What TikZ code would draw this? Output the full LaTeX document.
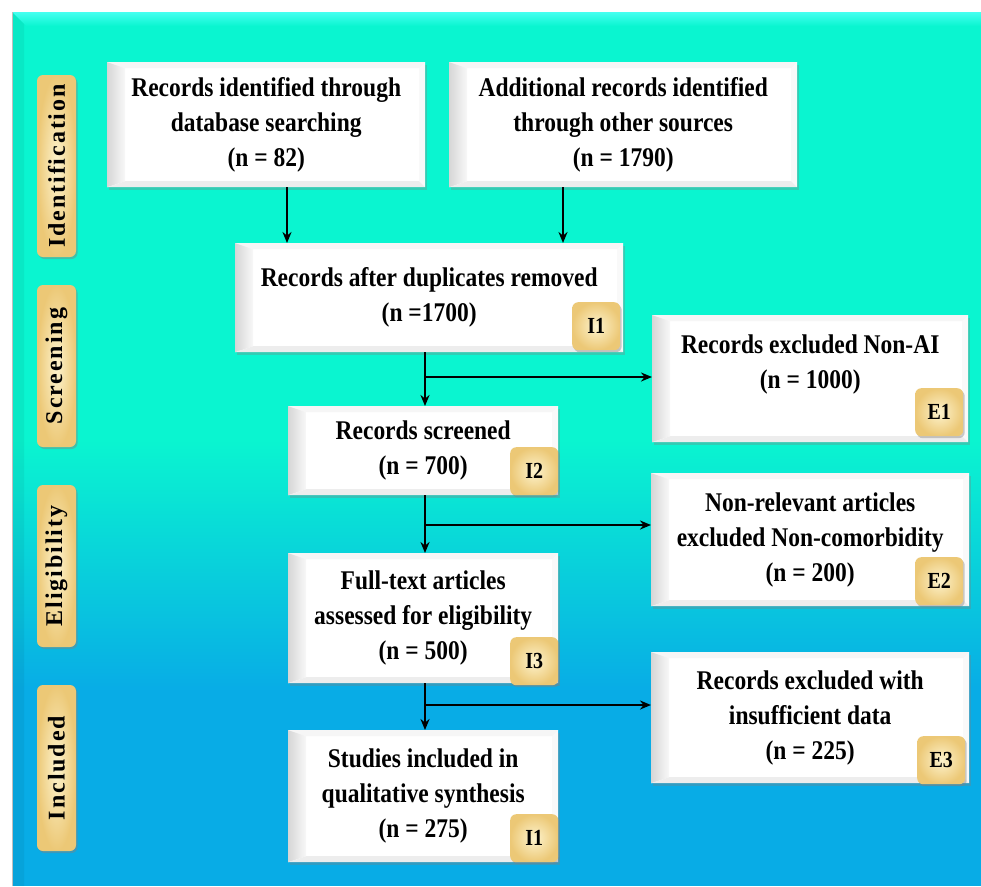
\documentclass[tikz,border=0pt]{standalone}
\usepackage{fontspec}
\setmainfont{Liberation Serif}
\newfontfamily\boxfont{Liberation Serif}[FakeStretch=0.87]
\newfontfamily\labfont{Liberation Serif}[LetterSpace=8]
\usetikzlibrary{arrows.meta,shadows,calc}
\definecolor{bgteal}{RGB}{10,245,208}
\definecolor{bgblue}{RGB}{8,172,230}
\definecolor{bgtop}{RGB}{70,255,240}
\definecolor{gold}{RGB}{236,200,118}
\definecolor{cream}{RGB}{253,243,205}
\begin{document}
\begin{tikzpicture}[x=1pt,y=1pt,
 flowbox/.style={fill=white, inner sep=0pt, align=center, anchor=north west,
   font=\boxfont\bfseries\fontsize{27}{35}\selectfont,
   drop shadow={shadow xshift=2pt,shadow yshift=-2.5pt,opacity=.35},
   path picture={
     \path (path picture bounding box.north west) coordinate (pnw)
           (path picture bounding box.south east) coordinate (pse);
     \fill[gray!7] (pnw) -- (pnw -| pse) -- ($(pnw -| pse)+(-6,-6)$) -- ($(pnw)+(18,-6)$) -- cycle;
     \shade[left color=gray!32, right color=gray!5] (pnw) -- ($(pnw)+(18,-6)$) -- ($(pnw |- pse)+(18,6)$) -- (pnw |- pse) -- cycle;
     \fill[gray!14] (pnw |- pse) -- ($(pnw |- pse)+(18,6)$) -- ($(pse)+(-6,6)$) -- (pse) -- cycle;
     \fill[gray!5] (pse) -- ($(pse)+(-6,6)$) -- ($(pnw -| pse)+(-6,-6)$) -- (pnw -| pse) -- cycle;
   }},
 badge/.style={rounded corners=6pt, minimum width=48pt, minimum height=48pt, inner sep=0pt,
   anchor=south east, inner color=cream, outer color=gold,
   drop shadow={shadow xshift=1.5pt,shadow yshift=-2pt,opacity=.4},
   font=\boxfont\bfseries\fontsize{23}{23}\selectfont},
 phase/.style={rounded corners=6pt, minimum height=39pt, inner sep=0pt, rotate=90,
   inner color=cream, outer color=gold,
   drop shadow={shadow xshift=1.5pt,shadow yshift=-2pt,opacity=.45},
   font=\labfont\bfseries\fontsize{24}{24}\selectfont},
 arr/.style={line width=2.3pt, -{Stealth[length=11pt,width=9pt]}}
]
\useasboundingbox (0,0) rectangle (981,-886);
\fill[white] (0,0) rectangle (981,-886);
% background
\fill[bgteal] (12,-12) rectangle (981,-441);
\shade[top color=bgteal,bottom color=bgblue] (12,-440) rectangle (981,-691);
\fill[bgblue] (12,-690) rectangle (981,-886);
\shade[top color=bgtop, bottom color=bgteal] (12,-12) -- (981,-12) -- (981,-26) -- (26,-26) -- cycle;
\fill[black,opacity=.05] (12,-12) -- (24,-24) -- (24,-886) -- (12,-886) -- cycle;
\draw[gray!50,line width=0.8pt] (12.4,-12) -- (12.4,-886);

% phase labels
\node[phase, minimum width=182pt] (p1) at (56.5,-166) {Identification};
\node[phase, minimum width=162pt] (p2) at (56.5,-366) {Screening};
\node[phase, minimum width=162pt] (p3) at (56.5,-566) {Eligibility};
\node[phase, minimum width=166pt] (p4) at (56.5,-768) {Included};

% boxes
\node[flowbox, minimum width=318pt, minimum height=125pt] (A) at (107,-62)
  {Records identified through\\database searching\\(n = 82)};
\node[flowbox, minimum width=348pt, minimum height=125pt] (B) at (449,-62)
  {Additional records identified\\through other sources\\(n = 1790)};
\node[flowbox, minimum width=388pt, minimum height=109pt] (C) at (235,-243)
  {Records after duplicates removed\\(n =1700)};
\node[flowbox, minimum width=316pt, minimum height=127pt] (E1) at (652,-315)
  {Records excluded Non-AI\\(n = 1000)\\ \mbox{}};
\node[flowbox, minimum width=270pt, minimum height=89pt] (D) at (288,-406)
  {Records screened\\(n = 700)};
\node[flowbox, minimum width=318pt, minimum height=133pt] (E2) at (651,-473)
  {Non-relevant articles\\excluded Non-comorbidity\\(n = 200)};
\node[flowbox, minimum width=270pt, minimum height=130pt] (F) at (288,-553)
  {Full-text articles\\assessed for eligibility\\(n = 500)};
\node[flowbox, minimum width=318pt, minimum height=131pt] (E3) at (651,-652)
  {Records excluded with\\insufficient data\\(n = 225)};
\node[flowbox, minimum width=270pt, minimum height=132pt] (G) at (288,-730)
  {Studies included in\\qualitative synthesis\\(n = 275)};

% badges
\node[badge] (bC) at ([xshift=-3pt,yshift=2pt]C.south east) {I1};
\node[badge] (bD) at (D.south east) {I2};
\node[badge] (bF) at ([yshift=-2pt]F.south east) {I3};
\node[badge] (bG) at (G.south east) {I1};
\node[badge] (bE1) at ([xshift=-5pt,yshift=6pt]E1.south east) {E1};
\node[badge] (bE2) at ([xshift=-6pt,yshift=1pt]E2.south east) {E2};
\node[badge] (bE3) at ([xshift=-4pt,yshift=-1pt]E3.south east) {E3};

% connectors
\coordinate (ax) at (287,0);
\coordinate (bx) at (563,0);
\coordinate (mx) at (425,0);
\draw[arr] (A.south -| ax) -- (C.north -| ax);
\draw[arr] (B.south -| bx) -- (C.north -| bx);
\draw[arr] (C.south -| mx) -- (D.north -| mx);
\draw[arr] (D.south -| mx) -- (F.north -| mx);
\draw[arr] (F.south -| mx) -- (G.north -| mx);
\coordinate (j1) at (425,-377);
\coordinate (j2) at (425,-525);
\coordinate (j3) at (425,-705);
\draw[arr] (j1) -- (j1 -| E1.west);
\draw[arr] (j2) -- (j2 -| E2.west);
\draw[arr] (j3) -- (j3 -| E3.west);
\end{tikzpicture}
\end{document}
